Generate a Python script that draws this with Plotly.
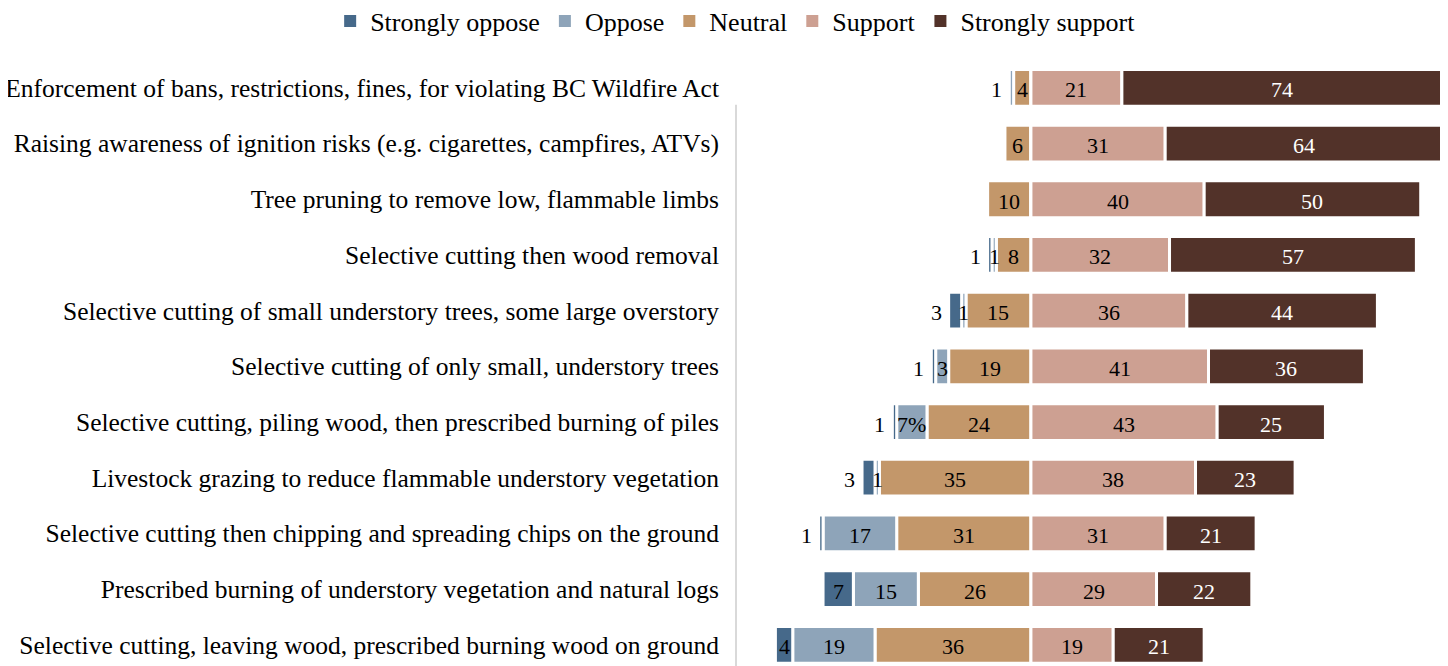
import plotly.graph_objects as go

categories = [
    "Enforcement of bans, restrictions, fines, for violating BC Wildfire Act",
    "Raising awareness of ignition risks (e.g. cigarettes, campfires, ATVs)",
    "Tree pruning to remove low, flammable limbs",
    "Selective cutting then wood removal",
    "Selective cutting of small understory trees, some large overstory",
    "Selective cutting of only small, understory trees",
    "Selective cutting, piling wood, then prescribed burning of piles",
    "Livestock grazing to reduce flammable understory vegetation",
    "Selective cutting then chipping and spreading chips on the ground",
    "Prescribed burning of understory vegetation and natural logs",
    "Selective cutting, leaving wood, prescribed burning wood on ground",
]
strongly_oppose = [0, 0, 0, 1, 3, 1, 1, 3, 1, 7, 4]
oppose = [1, 0, 0, 1, 1, 3, 7, 1, 17, 15, 19]
neutral = [4, 6, 10, 8, 15, 19, 24, 35, 31, 26, 36]
support = [21, 31, 40, 32, 36, 41, 43, 38, 31, 29, 19]
strongly_support = [74, 64, 50, 57, 44, 36, 25, 23, 21, 22, 21]
oppose_text = ["1", "", "", "1", "1", "3", "7%", "1", "17", "15", "19"]

series_names = ["Strongly oppose", "Oppose", "Neutral", "Support", "Strongly support"]
colors = ["#46698A", "#8EA4B9", "#C3976A", "#CDA092", "#523229"]

FONT = "Liberation Serif"
LBL = 22

fig = go.Figure()
# negative side: neutral closest to zero, then oppose, then strongly oppose
neg = [("Neutral", neutral, 2), ("Oppose", oppose, 1), ("Strongly oppose", strongly_oppose, 0)]
pos = [("Support", support, 3), ("Strongly support", strongly_support, 4)]
for name, vals, idx in neg:
    fig.add_trace(go.Bar(
        y=categories, x=[-v for v in vals], name=name, orientation="h",
        marker=dict(color=colors[idx], line=dict(color="white", width=3)),
        showlegend=False, hoverinfo="skip",
    ))
for name, vals, idx in pos:
    fig.add_trace(go.Bar(
        y=categories, x=vals, name=name, orientation="h",
        marker=dict(color=colors[idx], line=dict(color="white", width=3)),
        showlegend=False, hoverinfo="skip",
    ))
# legend entries (solid swatches, in reference order)
for name, col in zip(series_names, colors):
    fig.add_trace(go.Bar(
        y=[None], x=[None], name=name, orientation="h",
        marker=dict(color=col, line=dict(width=0)), showlegend=True, hoverinfo="skip",
    ))

# data labels computed from the data
annotations = []
for i, cat in enumerate(categories):
    start = 0
    segs = [(neutral[i], str(neutral[i]), "black"),
            (oppose[i], oppose_text[i], "black"),
            (strongly_oppose[i], str(strongly_oppose[i]), "black")]
    outer = max([k for k, s in enumerate(segs) if s[0] > 0], default=-1)
    for k, (v, t, c) in enumerate(segs):
        if v <= 0:
            continue
        left = -(start + v)
        right = -start
        if k == outer and v <= 3 and k > 0:
            annotations.append(dict(x=left, y=cat, text=t, showarrow=False,
                                    xanchor="right", xshift=-5, yshift=-2,
                                    font=dict(family=FONT, size=LBL, color=c)))
        else:
            annotations.append(dict(x=(left + right) / 2, y=cat, text=t, showarrow=False,
                                    xanchor="center", yshift=-2,
                                    font=dict(family=FONT, size=LBL, color=c)))
        start += v
    start = 0
    for v, c in [(support[i], "black"), (strongly_support[i], "white")]:
        if v <= 0:
            continue
        annotations.append(dict(x=start + v / 2, y=cat, text=str(v), showarrow=False,
                                xanchor="center", yshift=-2,
                                font=dict(family=FONT, size=LBL, color=c)))
        start += v

fig.update_layout(
    width=1440, height=658,
    barmode="relative", bargap=0.34,
    plot_bgcolor="white", paper_bgcolor="white",
    margin=dict(l=728, r=0, t=52, b=0, autoexpand=False),
    font=dict(family=FONT, size=25.5, color="black"),
    showlegend=True,
    legend=dict(orientation="h", xref="paper", yref="paper",
                x=-0.570, y=1.064, xanchor="left", yanchor="middle",
                font=dict(family=FONT, size=26), traceorder="normal",
                itemclick=False, itemwidth=30, tracegroupgap=0),
    annotations=annotations,
    shapes=[dict(type="line", xref="paper", yref="paper", x0=0, x1=0,
                 y0=0, y1=0.926, line=dict(color="#D9D9D9", width=2))],
)
fig.update_xaxes(range=[-68.1, 96.3], showticklabels=False, showgrid=False,
                 zeroline=False, showline=False, automargin=False)
fig.update_yaxes(autorange=False, range=[10.38, -0.5], showgrid=False, zeroline=False,
                 showline=False, ticks="", ticklabelstandoff=16, automargin=False,
                 tickfont=dict(family=FONT, size=25.5, color="black"))

fig.write_html("out.html")
